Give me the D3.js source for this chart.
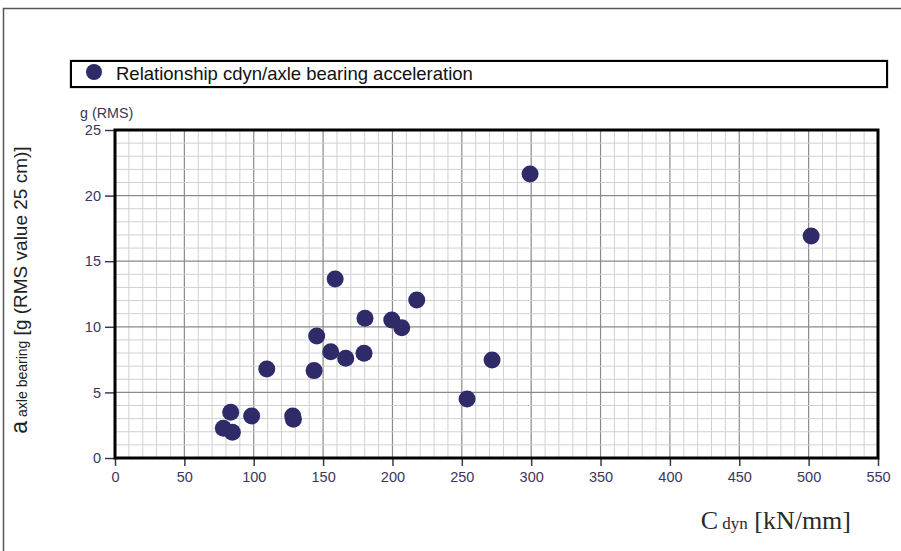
<!DOCTYPE html>
<html><head><meta charset="utf-8">
<script src="https://cdn.jsdelivr.net/npm/d3@7"></script>
<style>body{margin:0;background:#fff}svg{display:block}</style>
</head><body>
<script>
const xVals = [78.1, 84.6, 83.4, 98.5, 109.4, 128.1, 128.6, 143.5, 145.4, 155.5, 166.3, 158.7, 179.5, 180.2, 199.5, 206.7, 217.5, 253.8, 271.8, 299.2, 501.8];
const yVals = [2.26, 1.96, 3.48, 3.2, 6.78, 3.2, 2.95, 6.66, 9.3, 8.1, 7.6, 13.64, 7.98, 10.65, 10.52, 9.93, 12.04, 4.5, 7.47, 21.65, 16.92];
const xTicks = [0,50,100,150,200,250,300,350,400,450,500,550];
const yTicks = [0,5,10,15,20,25];
const legendLabel = "Relationship cdyn/axle bearing acceleration";

const W = 901, H = 551;
const svg = d3.select("body").append("svg").attr("width", W).attr("height", H);
const m = {l:115, r:878, t:130, b:458};
const x = d3.scaleLinear().domain([0,550]).range([m.l, m.r]);
const y = d3.scaleLinear().domain([0,25]).range([m.b, m.t]);
const axisCol = "#3b365e";
const ptCol = "#2f2a68";
const sans = "Liberation Sans, Arial, sans-serif";

// outer frame
svg.append("path").attr("d", `M3.5,${H} L3.5,8.5 L${W},8.5`).attr("fill","none").attr("stroke","#555").attr("stroke-width",1.5);

// grid
const g = svg.append("g");
g.selectAll(".vx").data(d3.range(0,551,10)).join("line")
  .attr("x1",d=>x(d)).attr("x2",d=>x(d)).attr("y1",m.t).attr("y2",m.b)
  .attr("stroke", d=> d%50===0 ? "#8a8a8a" : "#d0d0d0").attr("stroke-width", d=>d%50===0?1.2:1);
g.selectAll(".hy").data(d3.range(0,26,1)).join("line")
  .attr("y1",d=>y(d)).attr("y2",d=>y(d)).attr("x1",m.l).attr("x2",m.r)
  .attr("stroke", d=> d%5===0 ? "#8a8a8a" : "#d0d0d0").attr("stroke-width", d=>d%5===0?1.2:1);

// axes
const xAxis = svg.append("g").attr("transform",`translate(0,${m.b})`)
  .call(d3.axisBottom(x).tickValues(xTicks).tickSize(8).tickPadding(6));
const yAxis = svg.append("g").attr("transform",`translate(${m.l},0)`)
  .call(d3.axisLeft(y).tickValues(yTicks).tickSize(10).tickPadding(4));
[xAxis,yAxis].forEach(a=>{
  a.attr("font-size",null).attr("font-family",null);
  a.select(".domain").remove();
  a.selectAll("line").attr("stroke",axisCol).attr("stroke-width",1.5);
  a.selectAll("text").attr("fill",axisCol).style("font-family",sans).style("font-size","14.5px");
});

// plot border
svg.append("rect").attr("x",m.l).attr("y",m.t).attr("width",m.r-m.l).attr("height",m.b-m.t)
  .attr("fill","none").attr("stroke","#000").attr("stroke-width",3);

// points
svg.append("g").selectAll("circle").data(xVals.map((v,i)=>[v,yVals[i]])).join("circle")
  .attr("cx",d=>x(d[0])).attr("cy",d=>y(d[1])).attr("r",8.5).attr("fill",ptCol);

// legend
svg.append("rect").attr("x",70).attr("y",60).attr("width",818).attr("height",28)
  .attr("fill","none").attr("stroke","#bbb").attr("stroke-width",1);
svg.append("rect").attr("x",71).attr("y",61).attr("width",816).attr("height",26)
  .attr("fill","#fff").attr("stroke","#000").attr("stroke-width",2);
svg.append("circle").attr("cx",94).attr("cy",72).attr("r",8).attr("fill",ptCol);
svg.append("text").attr("x",116).attr("y",80).text(legendLabel)
  .style("font-family",sans).style("font-size","18.5px").attr("fill","#111");

// y unit
svg.append("text").attr("x",80).attr("y",118).text("g (RMS)")
  .style("font-family",sans).style("font-size","14.3px").attr("fill",axisCol);

// y title
const yt = svg.append("text").attr("transform","translate(27,290) rotate(-90)").attr("text-anchor","middle")
  .style("font-family",sans).attr("fill","#222");
yt.append("tspan").text("a").style("font-size","23px");
yt.append("tspan").text(" axle bearing").style("font-size","14px");
yt.append("tspan").text(" [g (RMS value 25 cm)]").style("font-size","19px");

// x title
const xt = svg.append("text").attr("x",851).attr("y",529).attr("text-anchor","end")
  .style("font-family","Liberation Serif, 'DejaVu Serif', serif").attr("fill","#2a2a2a");
xt.append("tspan").text("C").style("font-size","26px");
xt.append("tspan").text(" dyn").style("font-size","17px");
xt.append("tspan").text(" [kN/mm]").style("font-size","26px");
</script>
</body></html>
